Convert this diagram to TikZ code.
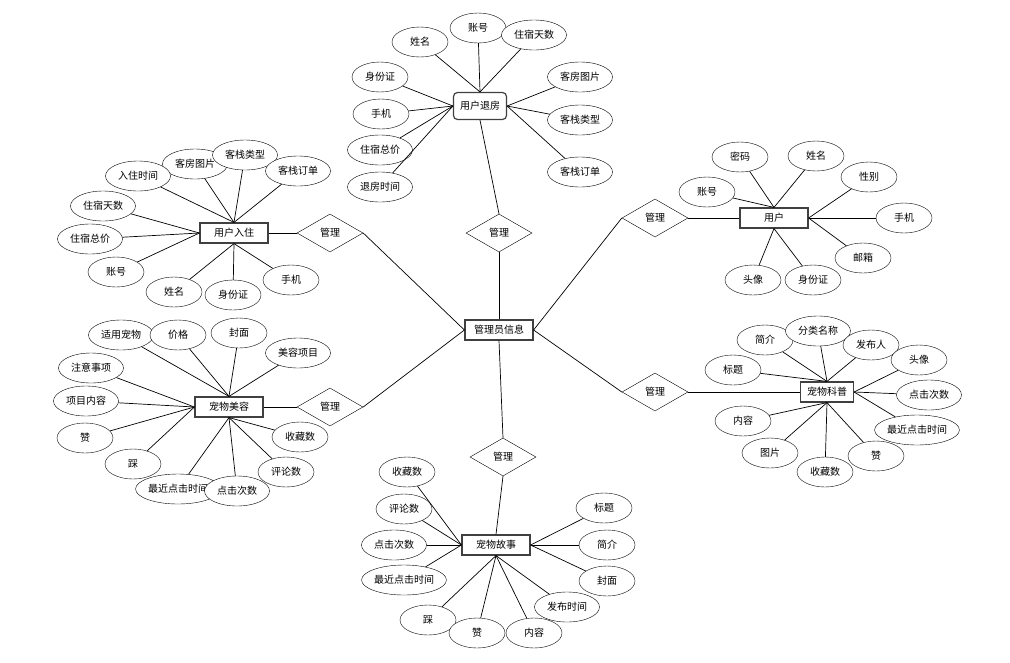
\documentclass[tikz,border=0pt]{standalone}
\usepackage{fontspec}
\newfontfamily\cjk{Noto Sans CJK SC}
\usetikzlibrary{shapes.geometric}
\tikzset{
  every node/.style={font=\cjk\fontsize{10}{12}\selectfont},
  attr/.style={ellipse, draw, fill=white, inner sep=0pt, minimum width=56pt, minimum height=30pt},
  wide/.style={attr, minimum width=65pt},
  entity/.style={rectangle, draw=black!75, line width=1.2pt, fill=white, inner sep=0pt, minimum width=68pt, minimum height=20pt},
  rel/.style={diamond, draw, fill=white, inner sep=0pt, minimum width=66pt, minimum height=38pt},
  link/.style={line width=0.7pt}
}

\begin{document}
\begin{tikzpicture}[x=1pt,y=-1pt]
  \useasboundingbox (0,0) rectangle (1010,662);

  % entities and relations
  \node[entity] (admin) at (499,330) {管理员信息};
  \node[entity, rounded corners=4pt, minimum width=53pt, minimum height=27pt] (checkout) at (480,106) {用户退房};
  \node[entity] (checkin) at (234,233) {用户入住};
  \node[entity] (user) at (774,218) {用户};
  \node[entity] (beauty) at (229,407) {宠物美容};
  \node[entity, minimum width=53pt] (science) at (827,392) {宠物科普};
  \node[entity] (story) at (496,545) {宠物故事};

  \node[rel] (mTop) at (499,233) {管理};
  \node[rel] (mCheckin) at (330,233) {管理};
  \node[rel] (mBeauty) at (330,407) {管理};
  \node[rel] (mUser) at (655,218) {管理};
  \node[rel] (mScience) at (655,392) {管理};
  \node[rel] (mStory) at (503,457) {管理};

  % 用户退房
  \node[attr] (co1) at (420,42) {姓名};
  \node[attr] (co2) at (478,28) {账号};
  \node[wide] (co3) at (534,35) {住宿天数};
  \node[attr] (co4) at (380,77) {身份证};
  \node[attr] (co5) at (381,114) {手机};
  \node[wide] (co6) at (380,150) {住宿总价};
  \node[wide] (co7) at (380,187) {退房时间};
  \node[wide] (co8) at (580,77) {客房图片};
  \node[wide] (co9) at (580,120) {客栈类型};
  \node[wide] (co10) at (580,172) {客栈订单};

  % 用户入住
  \node[wide] (ci2) at (195,164) {客房图片};
  \node[wide] (ci1) at (138,176) {入住时间};
  \node[wide] (ci3) at (245,155) {客栈类型};
  \node[wide] (ci4) at (298,171) {客栈订单};
  \node[wide] (ci5) at (103,206) {住宿天数};
  \node[wide] (ci6) at (90,239) {住宿总价};
  \node[attr] (ci7) at (116,272) {账号};
  \node[attr] (ci8) at (174,292) {姓名};
  \node[attr] (ci9) at (233,295) {身份证};
  \node[attr] (ci10) at (291,280) {手机};

  % 用户
  \node[attr] (us1) at (707,192) {账号};
  \node[attr] (us2) at (740,157) {密码};
  \node[attr] (us3) at (816,156) {姓名};
  \node[attr] (us4) at (869,177) {性别};
  \node[attr] (us5) at (904,218) {手机};
  \node[attr] (us6) at (863,258) {邮箱};
  \node[attr] (us7) at (753,280) {头像};
  \node[attr] (us8) at (813,280) {身份证};

  % 宠物美容
  \node[wide] (be1) at (121,335) {适用宠物};
  \node[attr] (be2) at (178,335) {价格};
  \node[attr] (be3) at (239,333) {封面};
  \node[wide] (be4) at (298,353) {美容项目};
  \node[wide] (be5) at (91,368) {注意事项};
  \node[wide] (be6) at (86,401) {项目内容};
  \node[attr] (be7) at (85,438) {赞};
  \node[attr] (be8) at (133,464) {踩};
  \node[attr] (be9) at (178,489) {最近点击时间};
  \node[wide] (be10) at (237,491) {点击次数};
  \node[attr] (be11) at (286,472) {评论数};
  \node[attr] (be12) at (300,437) {收藏数};

  % 宠物科普
  \node[attr] (sc1) at (733,370) {标题};
  \node[attr] (sc2) at (765,340) {简介};
  \node[wide] (sc3) at (818,331) {分类名称};
  \node[attr] (sc4) at (871,345) {发布人};
  \node[attr] (sc5) at (919,360) {头像};
  \node[wide] (sc6) at (929,395) {点击次数};
  \node[attr] (sc7) at (917,430) {最近点击时间};
  \node[attr] (sc8) at (743,421) {内容};
  \node[attr] (sc9) at (770,453) {图片};
  \node[attr] (sc10) at (825,472) {收藏数};
  \node[attr] (sc11) at (876,456) {赞};

  % 宠物故事
  \node[attr] (st1) at (407,472) {收藏数};
  \node[attr] (st2) at (404,509) {评论数};
  \node[wide] (st3) at (394,545) {点击次数};
  \node[attr] (st4) at (404,580) {最近点击时间};
  \node[attr] (st5) at (428,620) {踩};
  \node[attr] (st6) at (477,633) {赞};
  \node[attr] (st7) at (534,633) {内容};
  \node[wide] (st8) at (567,607) {发布时间};
  \node[attr] (st9) at (604,508) {标题};
  \node[attr] (st10) at (607,545) {简介};
  \node[attr] (st11) at (607,581) {封面};

  % connectors
  \foreach \a in {co1,co2,co3} \draw[link] (\a) -- (checkout.north);
  \foreach \a in {co4,co5,co6,co7} \draw[link] (\a) -- (checkout.west);
  \foreach \a in {co8,co9,co10} \draw[link] (\a) -- (checkout.east);
  \foreach \a in {ci1,ci2,ci3,ci4} \draw[link] (\a) -- (checkin.north);
  \foreach \a in {ci5,ci6,ci7} \draw[link] (\a) -- (checkin.west);
  \foreach \a in {ci8,ci9,ci10} \draw[link] (\a) -- (checkin.south);
  \foreach \a in {us1,us2,us3} \draw[link] (\a) -- (user.north);
  \foreach \a in {us4,us5,us6} \draw[link] (\a) -- (user.east);
  \foreach \a in {us7,us8} \draw[link] (\a) -- (user.south);
  \foreach \a in {be1,be2,be3,be4} \draw[link] (\a) -- (beauty.north);
  \foreach \a in {be5,be6,be7,be8} \draw[link] (\a) -- (beauty.west);
  \foreach \a in {be9,be10,be11,be12} \draw[link] (\a) -- (beauty.south);
  \foreach \a in {sc1,sc2,sc3,sc4} \draw[link] (\a) -- (science.north);
  \foreach \a in {sc5,sc6,sc7} \draw[link] (\a) -- (science.east);
  \foreach \a in {sc8,sc9,sc10,sc11} \draw[link] (\a) -- (science.south);
  \foreach \a in {st1,st2,st3,st4} \draw[link] (\a) -- (story.west);
  \foreach \a in {st5,st6,st7,st8} \draw[link] (\a) -- (story.south);
  \foreach \a in {st9,st10,st11} \draw[link] (\a) -- (story.east);

  \draw[link] (checkout.south) -- (mTop.north);
  \draw[link] (mTop.south) -- (admin.north);
  \draw[link] (checkin.east) -- (mCheckin.west);
  \draw[link] (mCheckin.east) -- (admin.west);
  \draw[link] (beauty.east) -- (mBeauty.west);
  \draw[link] (mBeauty.east) -- (admin.west);
  \draw[link] (user.west) -- (mUser.east);
  \draw[link] (mUser.west) -- (admin.east);
  \draw[link] (science.west) -- (mScience.east);
  \draw[link] (mScience.west) -- (admin.east);
  \draw[link] (story.north) -- (mStory.south);
  \draw[link] (mStory.north) -- (admin.south);
\end{tikzpicture}
\end{document}
